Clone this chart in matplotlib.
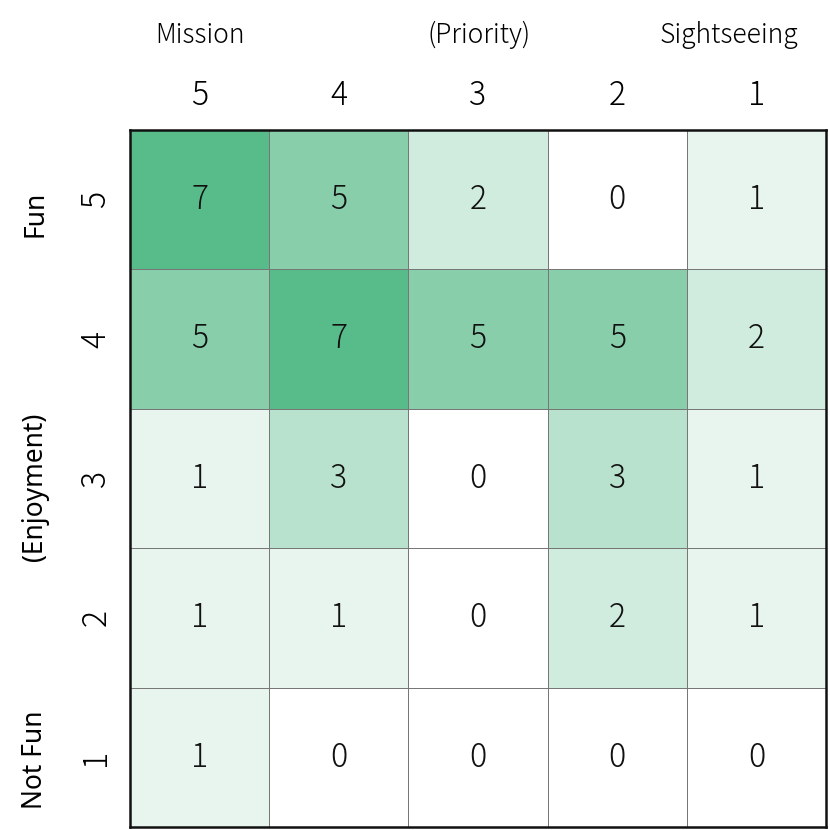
import numpy as np
import matplotlib
matplotlib.use("Agg")
import matplotlib.pyplot as plt
from matplotlib.colors import LinearSegmentedColormap

# priority columns (5 = Mission ... 1 = Sightseeing), enjoyment rows (5 = Fun ... 1 = Not Fun)
priority_labels = ["5", "4", "3", "2", "1"]
enjoyment_labels = ["5", "4", "3", "2", "1"]
counts = [
    [7, 5, 2, 0, 1],
    [5, 7, 5, 5, 2],
    [1, 3, 0, 3, 1],
    [1, 1, 0, 2, 1],
    [1, 0, 0, 0, 0],
]

narrow = "Noto Sans CJK JP"
wide = "Noto Sans"

cmap = LinearSegmentedColormap.from_list("grn", ["#ffffff", "#58bb8a"])
data = np.array(counts)

fig = plt.figure(figsize=(8.3, 8.3), dpi=100)
ax = fig.add_axes([0.1566, 0.0036, 0.8386, 0.8398])
ax.pcolormesh(data[::-1], cmap=cmap, vmin=0, vmax=7, edgecolor="#777777", linewidth=0.6)
ax.set_xlim(0, 5)
ax.set_ylim(0, 5)

for i in range(5):
    for j in range(5):
        ax.text(j + 0.5, 4.5 - i, str(counts[i][j]), ha="center", va="center",
                fontsize=23, family=narrow, weight="light", color="#111111")

ax.set_xticks(np.arange(5) + 0.5)
ax.set_xticklabels(priority_labels, fontsize=23, family=narrow, weight="light")
ax.xaxis.tick_top()
ax.set_yticks(np.arange(5) + 0.5)
ax.set_yticklabels(enjoyment_labels[::-1], fontsize=23, family=narrow, weight="light",
                   rotation=90, va="center")
ax.tick_params(length=0, pad=12)
for s in ax.spines.values():
    s.set_linewidth(1.8)
    s.set_color("#111111")

# top axis titles
ax.text(0.5, 5.68, "Mission", ha="center", va="center", fontsize=19, family=narrow, weight="light")
ax.text(2.51, 5.68, "(Priority)", ha="center", va="center", fontsize=19, family=narrow, weight="light")
ax.text(4.3, 5.68, "Sightseeing", ha="center", va="center", fontsize=19, family=narrow, weight="light")

# left axis titles
ax.text(-0.68, 4.40, "Fun", ha="center", va="center", fontsize=19, family=wide, weight="light", rotation=90)
ax.text(-0.68, 2.44, "(Enjoyment)", ha="center", va="center", fontsize=19, family=wide, weight="light", rotation=90)
ax.text(-0.68, 0.48, "Not Fun", ha="center", va="center", fontsize=19, family=wide, weight="light", rotation=90)

fig.savefig("out.png", dpi=100)
